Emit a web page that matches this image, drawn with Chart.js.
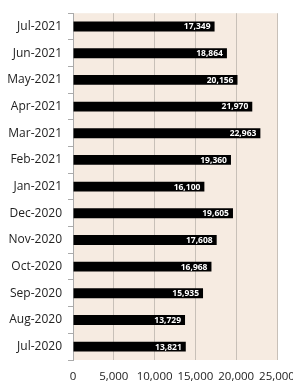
<!DOCTYPE html>
<html>
<head>
<meta charset="utf-8">
<script src="https://cdn.jsdelivr.net/npm/chart.js@4.4.0/dist/chart.umd.min.js"></script>
<style>
  html, body { margin: 0; padding: 0; background: #fff; }
  #wrap { width: 293px; height: 383px; }
</style>
</head>
<body>
<div id="wrap"><canvas id="grafico"></canvas></div>
<script>
// meses (de cima para baixo) e valores
const meses = ['Jul-2021', 'Jun-2021', 'May-2021', 'Apr-2021', 'Mar-2021', 'Feb-2021', 'Jan-2021',
  'Dec-2020', 'Nov-2020', 'Oct-2020', 'Sep-2020', 'Aug-2020', 'Jul-2020'];
const valores = [17349, 18864, 20156, 21970, 22963, 19360, 16100, 19605, 17608, 16968, 15935, 13729, 13821];
const ticksX = [0, 5000, 10000, 15000, 20000, 25000];

// fundo bege da área do gráfico
const fundoPlugin = {
  id: 'fundo',
  beforeDraw(chart) {
    const { ctx, chartArea } = chart;
    ctx.save();
    ctx.fillStyle = '#f6ebe1';
    ctx.fillRect(chartArea.left, chartArea.top, chartArea.right - chartArea.left, chartArea.bottom - chartArea.top);
    ctx.restore();
  }
};

// rótulos dentro das barras
const rotulosPlugin = {
  id: 'rotulos',
  afterDatasetsDraw(chart) {
    const { ctx } = chart;
    const meta = chart.getDatasetMeta(0);
    ctx.save();
    ctx.font = 'bold 8.5px "Open Sans"';
    ctx.fillStyle = '#ffffff';
    ctx.textAlign = 'right';
    ctx.textBaseline = 'middle';
    meta.data.forEach((bar, i) => {
      ctx.fillText(valores[i].toLocaleString('en-US'), bar.x - 4, bar.y + 0.5);
    });
    ctx.restore();
  }
};

new Chart(document.getElementById('grafico'), {
  type: 'bar',
  data: {
    labels: meses,
    datasets: [{
      data: valores,
      backgroundColor: '#000000',
      borderWidth: 0,
      barPercentage: 0.37,
      categoryPercentage: 1,
    }],
  },
  options: {
    indexAxis: 'y',
    responsive: true,
    maintainAspectRatio: false,
    animation: false,
    layout: { padding: { top: 12, right: 0, left: 0, bottom: 0 } },
    plugins: {
      legend: { display: false },
      tooltip: { enabled: false },
    },
    scales: {
      x: {
        min: 0,
        max: 25000,
        afterBuildTicks(axis) { axis.ticks = ticksX.map(v => ({ value: v })); },
        afterFit(axis) { axis.height = 23; axis.paddingRight = 16; axis.paddingLeft = 0; },
        ticks: {
          color: '#222',
          font: { family: '"Open Sans"', size: 11.5 },
          callback: (v) => v.toLocaleString('en-US'),
          maxRotation: 0,
          padding: 10,
        },
        grid: { color: '#c8c0b8', lineWidth: 1, drawTicks: false },
        border: { display: false },
      },
      y: {
        afterFit(axis) { axis.width = 73; },
        ticks: {
          color: '#222',
          font: { family: '"Open Sans"', size: 12 },
          padding: 6,
        },
        grid: { offset: true, drawOnChartArea: false, color: '#aaa', tickLength: 5 },
        border: { display: true, color: '#aaa' },
      },
    },
  },
  plugins: [fundoPlugin, rotulosPlugin],
});
</script>
</body>
</html>
